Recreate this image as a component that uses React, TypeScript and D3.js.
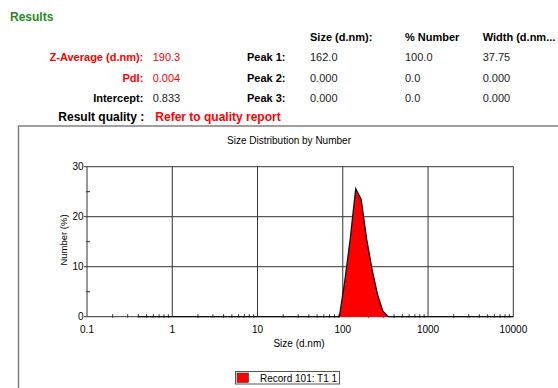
import React from "react";
import * as d3 from "d3";

// ---- data ----
const sizes = [0.4, 91.28, 105.7, 122.4, 141.8, 164.2, 190.1, 220.2, 255.0, 295.3, 342.0, 10000];
const numberPct = [0, 0, 7.2, 15.6, 25.6, 23.5, 15.6, 9.5, 4.5, 1.1, 0, 0];
const xMajor = [0.1, 1, 10, 100, 1000, 10000];
const xMajorLabels = ["0.1", "1", "10", "100", "1000", "10000"];
const yMajor = [0, 10, 20, 30];
const yMinor = [5, 15, 25];

const leftLabels = ["Z-Average (d.nm):", "PdI:", "Intercept:"];
const leftValues = ["190.3", "0.004", "0.833"];
const peakLabels = ["Peak 1:", "Peak 2:", "Peak 3:"];
const peakSizes = ["162.0", "0.000", "0.000"];
const peakNumbers = ["100.0", "0.0", "0.0"];
const peakWidths = ["37.75", "0.000", "0.000"];
const legendLabel = "Record 101: T1 1";

const FONT = "'Liberation Sans', Arial, sans-serif";

export default function App() {
  const x = d3.scaleLog().domain([0.1, 10000]).range([87, 513.3]);
  const y = d3.scaleLinear().domain([0, 30]).range([316.7, 166.7]);
  const pts = sizes.map((s, i) => [s, numberPct[i]] as [number, number]);
  const area = d3
    .area<[number, number]>()
    .x((d) => x(d[0]))
    .y0(y(0))
    .y1((d) => y(d[1]));
  const line = d3
    .line<[number, number]>()
    .x((d) => x(d[0]))
    .y((d) => y(d[1]));

  const minorX: number[] = [];
  for (let e = -1; e < 4; e++) {
    for (let m = 2; m <= 9; m++) minorX.push(m * Math.pow(10, e));
  }

  const red = "#ff0000";
  const rowY = [61.3, 81.8, 102.3];
  const gridC = "#333";

  return (
    <div style={{ position: "absolute", left: 0, top: 0 }}>
      <svg width={558} height={388} style={{ display: "block", fontFamily: FONT }}>
        <rect x={0} y={0} width={558} height={388} fill="#fff" />
        <text x={10} y={21} fontSize={12} fontWeight="bold" fill="#1f8a1f">Results</text>

        {leftLabels.map((l, i) => (
          <text key={l} x={143.3} y={rowY[i]} fontSize={11} fontWeight="bold" textAnchor="end" fill={i < 2 ? red : "#000"}>{l}</text>
        ))}
        {leftValues.map((v, i) => (
          <text key={"lv" + i} x={152.7} y={rowY[i]} fontSize={11} fill={i < 2 ? red : "#222"}>{v}</text>
        ))}
        {peakLabels.map((l, i) => (
          <text key={l} x={285.5} y={rowY[i]} fontSize={11} fontWeight="bold" textAnchor="end" fill="#000">{l}</text>
        ))}
        <text x={310} y={40.5} fontSize={11} fontWeight="bold" fill="#000">Size (d.nm):</text>
        <text x={405} y={40.5} fontSize={11} fontWeight="bold" fill="#000">% Number</text>
        <text x={482.7} y={40.5} fontSize={11} fontWeight="bold" fill="#000">Width (d.nm...</text>
        {peakSizes.map((v, i) => (
          <text key={"ps" + i} x={310} y={rowY[i]} fontSize={11} fill="#222">{v}</text>
        ))}
        {peakNumbers.map((v, i) => (
          <text key={"pn" + i} x={405} y={rowY[i]} fontSize={11} fill="#222">{v}</text>
        ))}
        {peakWidths.map((v, i) => (
          <text key={"pw" + i} x={482.7} y={rowY[i]} fontSize={11} fill="#222">{v}</text>
        ))}
        <text x={58.3} y={121} fontSize={12} fontWeight="bold" fill="#000">Result quality :</text>
        <text x={155.3} y={121} fontSize={12} fontWeight="bold" fill={red}>Refer to quality report</text>

        {/* chart frame */}
        <path d="M18.5,400 L18.5,126 L570,126" fill="none" stroke="#808080" strokeWidth={1.5} />
        <text x={289} y={143.5} fontSize={10} textAnchor="middle" fill="#000">Size Distribution by Number</text>

        {/* grid */}
        {yMajor.map((v) => (
          <line key={"gy" + v} x1={x(0.1)} x2={x(10000)} y1={y(v)} y2={y(v)} stroke={gridC} strokeWidth={1} />
        ))}
        {xMajor.map((v) => (
          <line key={"gx" + v} x1={x(v)} x2={x(v)} y1={y(0)} y2={y(30)} stroke={gridC} strokeWidth={1} />
        ))}
        {yMajor.map((v) => (
          <line key={"ty" + v} x1={x(0.1) - 3} x2={x(0.1)} y1={y(v)} y2={y(v)} stroke={gridC} />
        ))}
        {yMinor.map((v) => (
          <line key={"tmy" + v} x1={x(0.1) - 1} x2={x(0.1) + 3} y1={y(v)} y2={y(v)} stroke={gridC} />
        ))}
        {minorX.map((v) => (
          <line key={"tmx" + v} x1={x(v)} x2={x(v)} y1={y(0) + 1} y2={y(0) - 2.5} stroke={gridC} />
        ))}
        {yMajor.map((v) => (
          <text key={"ly" + v} x={83.5} y={y(v) + 3.5} fontSize={10} textAnchor="end" fill="#000">{v}</text>
        ))}
        {xMajor.map((v, i) => (
          <text key={"lx" + v} x={x(v)} y={332.5} fontSize={10} textAnchor="middle" fill="#000">{xMajorLabels[i]}</text>
        ))}
        <text x={299} y={347} fontSize={10} textAnchor="middle" fill="#000">Size (d.nm)</text>
        <text transform="translate(66.5,240) rotate(-90)" fontSize={9.5} textAnchor="middle" fill="#000">Number (%)</text>

        {/* data */}
        <path d={area(pts) || ""} fill={red} stroke="none" />
        <path d={line(pts) || ""} fill="none" stroke="#111" strokeWidth={1.3} />

        {/* legend */}
        <rect x={235.5} y={371.5} width={104} height={12.5} fill="#fff" stroke="#555" strokeWidth={1} />
        <rect x={237} y={373} width={11.5} height={9.5} fill={red} stroke="#333" strokeWidth={0.6} />
        <text x={260} y={381.5} fontSize={10} fill="#000">{legendLabel}</text>
      </svg>
    </div>
  );
}
